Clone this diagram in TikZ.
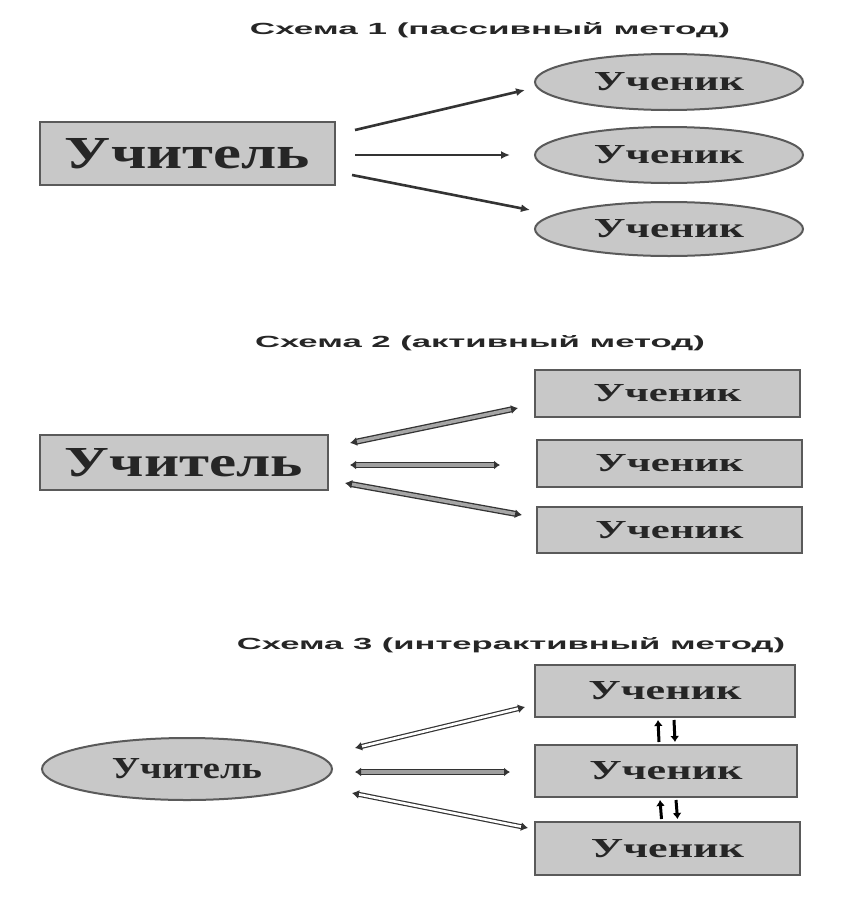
\documentclass[tikz,border=0pt]{standalone}
\usepackage{fontspec}
\setmainfont{Liberation Serif}
\setsansfont{Liberation Sans}
\usetikzlibrary{arrows.meta,shapes.geometric}
\definecolor{boxfill}{HTML}{C8C8C8}
\definecolor{boxline}{HTML}{5A5A5A}
\definecolor{ink}{HTML}{262626}
\definecolor{arrowc}{HTML}{333333}
\newcommand\fitt[3]{\resizebox{#1pt}{#2pt}{#3}}
\begin{document}
\begin{tikzpicture}[x=1pt,y=-1pt,
  rectbox/.style={draw=boxline,line width=2pt,fill=boxfill,rectangle,inner sep=0pt,outer sep=0pt,text=ink},
  ellbox/.style={draw=boxline,line width=2pt,fill=boxfill,ellipse,inner sep=0pt,outer sep=0pt,text=ink},
  title/.style={text=ink,inner sep=0pt,font=\sffamily\bfseries},
  arr/.style={draw=arrowc,line width=2.6pt,-{Latex[length=9pt,width=8pt]}},
  darr/.style={draw=arrowc,line width=1.3pt,double=gray!70,double distance=3.4pt,{Latex[length=7pt,width=9pt]}-{Latex[length=7pt,width=9pt]}},
  warr/.style={draw=arrowc,line width=1.2pt,double=white,double distance=2.6pt,{Latex[length=7pt,width=9pt]}-{Latex[length=7pt,width=9pt]}},
  garr/.style={draw=arrowc,line width=1.2pt,double=gray!75,double distance=4.5pt,{Latex[length=6pt,width=9pt]}-{Latex[length=6pt,width=9pt]}},
  small/.style={draw=black,line width=3pt,-{Latex[length=6pt,width=9pt]}}
]
\useasboundingbox (0,0) rectangle (846,918);
\fill[white] (0,0) rectangle (846,918);

% ---------- Scheme 1
\node[title] (h1) at (490,30) {\fitt{480}{12}{Схема 1 (пассивный метод)}};
\node[rectbox,minimum width=295pt,minimum height=63pt] (t1) at (187.5,153.5) {\fitt{245}{30}{\bfseries Учитель}};
\node[ellbox,minimum width=268pt,minimum height=56pt] (s11) at (669,82) {\fitt{150}{18}{\bfseries Ученик}};
\node[ellbox,minimum width=268pt,minimum height=56pt] (s12) at (669,155) {\fitt{150}{18}{\bfseries Ученик}};
\node[ellbox,minimum width=268pt,minimum height=54pt] (s13) at (669,229) {\fitt{150}{18}{\bfseries Ученик}};
\draw[arr] ([shift={(20,-23.5)}]t1.east) -- ([shift={(-10,8)}]s11.west);
\draw[arr] ([shift={(20,1.5)}]t1.east) -- ([shift={(-25,0)}]s12.west);
\draw[arr] ([shift={(17,21.5)}]t1.east) -- ([shift={(-5,-19)}]s13.west);

% ---------- Scheme 2
\node[title] (h2) at (480,343) {\fitt{450}{12}{Схема 2 (активный метод)}};
\node[rectbox,minimum width=288pt,minimum height=55pt] (t2) at (184,462.5) {\fitt{238}{28}{\bfseries Учитель}};
\node[rectbox,minimum width=265pt,minimum height=47pt] (s21) at (667.5,393.5) {\fitt{148}{17}{\bfseries Ученик}};
\node[rectbox,minimum width=265pt,minimum height=47pt] (s22) at (669.5,463.5) {\fitt{148}{17}{\bfseries Ученик}};
\node[rectbox,minimum width=265pt,minimum height=46pt] (s23) at (669.5,530) {\fitt{148}{17}{\bfseries Ученик}};
\draw[darr] ([shift={(22,-19.5)}]t2.east) -- ([shift={(-17,14.5)}]s21.west);
\draw[garr] ([shift={(22,2.5)}]t2.east) -- ([shift={(-37,1.5)}]s22.west);
\draw[darr] ([shift={(17,20.5)}]t2.east) -- ([shift={(-15,-15)}]s23.west);

% ---------- Scheme 3
\node[title] (h3) at (511,645) {\fitt{548}{12}{Схема 3 (интерактивный метод)}};
\node[ellbox,minimum width=290pt,minimum height=62pt] (t3) at (187,769) {\fitt{150}{20}{\bfseries Учитель}};
\node[rectbox,minimum width=260pt,minimum height=52pt] (s31) at (665,691) {\fitt{153}{18}{\bfseries Ученик}};
\node[rectbox,minimum width=262pt,minimum height=52pt] (s32) at (666,771) {\fitt{153}{18}{\bfseries Ученик}};
\node[rectbox,minimum width=265pt,minimum height=53pt] (s33) at (667.5,848.5) {\fitt{153}{18}{\bfseries Ученик}};
\draw[warr] ([shift={(23,-21)}]t3.east) -- ([shift={(-10,16)}]s31.west);
\draw[garr] ([shift={(23,3)}]t3.east) -- ([shift={(-25,1)}]s32.west);
\draw[warr] ([shift={(20,24)}]t3.east) -- ([shift={(-7,-20.5)}]s33.west);
\draw[small] ([shift={(-7,-3)}]s32.north) -- ([shift={(-7,3)}]s31.south);
\draw[small] ([shift={(9,3)}]s31.south) -- ([shift={(9,-3)}]s32.north);
\draw[small] ([shift={(-6,-3)}]s33.north) -- ([shift={(-6,3)}]s32.south);
\draw[small] ([shift={(10,3)}]s32.south) -- ([shift={(10,-3)}]s33.north);
\end{tikzpicture}
\end{document}
